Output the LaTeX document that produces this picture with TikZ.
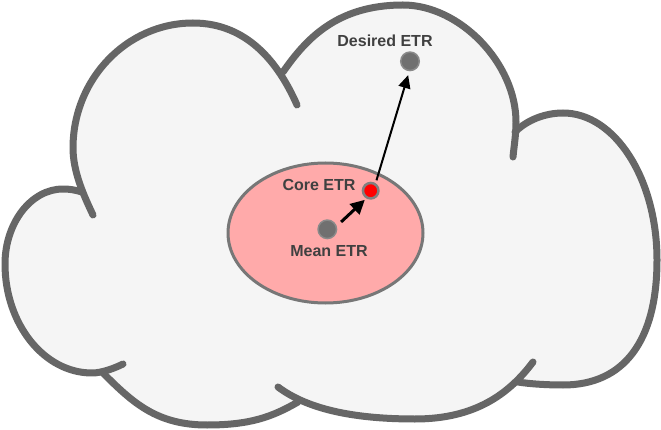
\documentclass[tikz,border=0pt]{standalone}
\usepackage{fontspec}
\setmainfont{Liberation Sans}
\usetikzlibrary{arrows.meta,shapes.geometric}
\definecolor{cloudfill}{HTML}{F5F5F5}
\definecolor{cloudline}{HTML}{666666}
\definecolor{areafill}{HTML}{FFAAAA}
\definecolor{arealine}{HTML}{777777}
\definecolor{dotfill}{HTML}{707070}
\definecolor{dotline}{HTML}{8A8A8A}
\definecolor{txt}{HTML}{404040}
\tikzset{
  lobe/.style={draw=cloudline,line width=7pt,line cap=round,line join=round},
  graydot/.style={circle,fill=dotfill,draw=dotline,line width=1.5pt,minimum size=18.5pt,inner sep=0pt},
  reddot/.style={circle,fill=red,draw=gray,line width=2.5pt,minimum size=15.5pt,inner sep=0pt},
  lbl/.style={anchor=base,text=txt,font=\fontsize{16}{19}\selectfont\bfseries,inner sep=0pt},
  bigarrow/.style={line width=3pt,-{Triangle[length=14pt,width=14pt]}},
  longarrow/.style={line width=2pt,-{Triangle[length=13pt,width=12pt]}}
}
\begin{document}
\begin{tikzpicture}[x=1pt,y=-1pt]
\useasboundingbox (0,0) rectangle (661,430);
\fill[white] (0,0) rectangle (661,430);
% cloud fill
\fill[cloudfill]
  (82,192) .. controls (75,190) and (70,189) .. (63,189)
  .. controls (31,189) and (5,223) .. (5,264)
  .. controls (5,324) and (44,373) .. (92,373)
  .. controls (102,373) and (115,368) .. (123,364)
  -- (103,373)
  .. controls (133,403) and (157,425) .. (207,425)
  .. controls (250,425) and (272,417) .. (298,402)
  -- (278,387)
  .. controls (306,408) and (350,419) .. (415,419)
  .. controls (475,419) and (509,394) .. (533,362)
  -- (518,382)
  .. controls (530,384) and (548,385) .. (563,385)
  .. controls (624,385) and (657,341) .. (657,260)
  .. controls (657,179) and (615,113) .. (563,113)
  .. controls (545,113) and (527,120) .. (515,132)
  -- (513,157)
  .. controls (514,146) and (516,135) .. (516,122)
  .. controls (516,63.5) and (460,5) .. (403,5)
  .. controls (337,5) and (306,39) .. (283,72)
  -- (297,105)
  .. controls (279,64) and (248,23) .. (193,23)
  .. controls (127,23) and (73,79) .. (73,148)
  .. controls (73,172) and (84,196) .. (93,215)
  -- cycle;
% cloud lobes
\draw[lobe] (82,192) .. controls (75,190) and (70,189) .. (63,189)
  .. controls (31,189) and (5,223) .. (5,264)
  .. controls (5,324) and (44,373) .. (92,373)
  .. controls (102,373) and (115,368) .. (123,364);
\draw[lobe] (103,373) .. controls (133,403) and (157,425) .. (207,425)
  .. controls (250,425) and (272,417) .. (298,402);
\draw[lobe] (533,362) .. controls (509,394) and (475,419) .. (415,419)
  .. controls (350,419) and (306,408) .. (278,387);
\draw[lobe] (515,132) .. controls (527,120) and (545,113) .. (563,113)
  .. controls (615,113) and (657,179) .. (657,260)
  .. controls (657,341) and (624,385) .. (563,385)
  .. controls (548,385) and (530,384) .. (518,382);
\draw[lobe] (283,72) .. controls (306,39) and (337,5) .. (403,5)
  .. controls (460,5) and (516,63.5) .. (516,122)
  .. controls (516,135) and (514,146) .. (513,157);
\draw[lobe] (93,215) .. controls (84,196) and (73,172) .. (73,148)
  .. controls (73,79) and (127,23) .. (193,23)
  .. controls (248,23) and (279,64) .. (297,105);
% core region
\node[ellipse,draw=arealine,fill=areafill,line width=3pt,minimum width=195pt,minimum height=140pt,inner sep=0pt] (area) at (325.5,233) {};
% points
\node[graydot] (mean) at (327.3,229.3) {};
\node[reddot] (core) at (370.7,190.7) {};
\node[graydot] (desired) at (410,61.3) {};
% labels
\node[lbl] (lmean) at (329,256.7) {Mean ETR};
\node[lbl] (lcore) at (319,190.7) {Core ETR};
\node[lbl] (ldesired) at (385,46.7) {Desired ETR};
% arrows
\draw[bigarrow,shorten <=6pt,shorten >=2pt] (mean.19.5) -- (core.240);
\draw[longarrow,shorten <=3pt,shorten >=4pt] (core.57) -- (desired.266);
\end{tikzpicture}
\end{document}
